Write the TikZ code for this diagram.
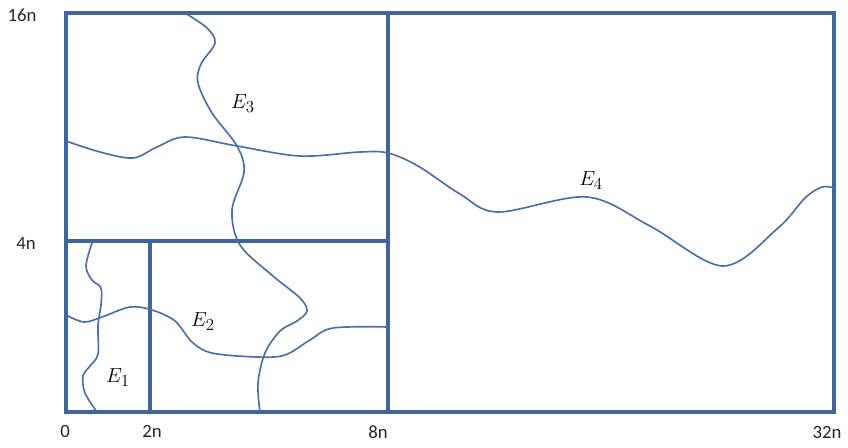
\documentclass[tikz,border=0pt]{standalone}
\usepackage{fontspec}
\usepackage{amsmath}
\setsansfont{Carlito}
\definecolor{gridline}{HTML}{41659A}
\definecolor{curveline}{HTML}{4A6FA5}
\tikzset{
  frame/.style={draw=gridline, line width=2.7pt, line cap=rect},
  edge/.style={draw=curveline, line width=1.4pt, smooth, tension=0.55},
  ticklabel/.style={font=\sffamily\fontsize{16}{18}\selectfont, inner sep=0pt, text=black!85},
  setlabel/.style={font=\fontsize{19}{21}\selectfont, inner sep=0pt},
}
\begin{document}
\begin{tikzpicture}[x=0.03cm, y=-0.03cm]
    \useasboundingbox (0,0) rectangle (848,447);
    % corners of the grid
    \coordinate (bl) at (66,412);
    \coordinate (tr) at (834,13);
    \coordinate (m8b) at (388,412);
    \coordinate (m8t) at (388,13);
    \coordinate (m4l) at (66,241);
    \coordinate (m4r) at (388,241);
    \coordinate (m2t) at (150,241);
    \coordinate (m2b) at (150,412);
    \draw[frame] (bl) rectangle (tr);
    \draw[frame] (m8b) -- (m8t);
    \draw[frame] (m4l) -- (m4r);
    \draw[frame] (m2t) -- (m2b);
    % curves
    \draw[edge] plot coordinates {(92,243) (86,266) (92,280) (101,288) (101,305) (98,325) (98,354) (90,366) (83,376) (85,393) (97,412)};
    \draw[edge] plot coordinates {(66,315) (84,322) (102,317) (130,307) (152,310) (175,321) (192,342) (212,353) (257,357) (285,355) (310,340) (333,328) (388,327)};
    \draw[edge] plot coordinates {(185,13) (207,28) (215,43) (201,64) (198,83) (212,113) (237,146) (244,172) (232,210) (240,245) (273,276) (300,298) (307,311) (297,321) (280,331) (265,353) (258,383) (260,412)};
    \draw[edge] plot coordinates {(66,141) (100,152) (133,158) (157,147) (185,137) (237,146) (300,156) (360,152) (388,153) (418,166) (460,194) (498,212) (587,197) (650,226) (723,266) (778,228) (805,198) (822,187) (834,188)};
    % labels
    \node[ticklabel] (l16) at (22,15) {16n};
    \node[ticklabel] (l4) at (26,243) {4n};
    \node[ticklabel] (l0) at (65,431) {0};
    \node[ticklabel] (l2) at (152,431) {2n};
    \node[ticklabel] (l8) at (378,432) {8n};
    \node[ticklabel] (l32) at (827,432) {32n};
    \node[setlabel] (e1) at (118,378) {$E_1$};
    \node[setlabel] (e2) at (203,322) {$E_2$};
    \node[setlabel] (e3) at (243,104) {$E_3$};
    \node[setlabel] (e4) at (591,181) {$E_4$};
  \end{tikzpicture}
\end{document}
